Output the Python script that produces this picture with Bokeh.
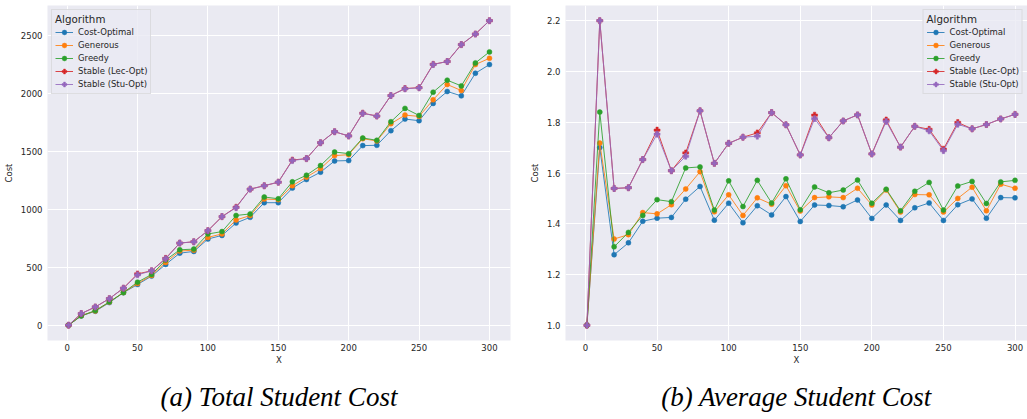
from bokeh.plotting import figure
from bokeh.layouts import row
from bokeh.models import FixedTicker, Range1d, Title, NumeralTickFormatter
from bokeh.embed import file_html
from bokeh.resources import INLINE

x_vals = [1, 10, 20, 30, 40, 50, 60, 70, 80, 90, 100, 110, 120, 130, 140, 150,
          160, 170, 180, 190, 200, 210, 220, 230, 240, 250, 260, 270, 280, 290, 300]

algorithms = ["Cost-Optimal", "Generous", "Greedy", "Stable (Lec-Opt)", "Stable (Stu-Opt)"]
colors = ["#1f77b4", "#ff7f0e", "#2ca02c", "#d62728", "#9467bd"]
markers = ["circle", "circle", "circle", "plus", "plus"]

# (a) Total student cost
total_cost_optimal = [1, 81, 121, 196, 281, 352, 424, 525, 622, 637, 744, 775, 882, 931, 1057, 1057,
                      1183, 1257, 1320, 1417, 1420, 1549, 1552, 1678, 1778, 1764, 1913, 2016, 1978, 2173, 2248]
total_generous = [1, 83, 124, 200, 283, 360, 430, 542, 640, 648, 758, 788, 908, 946, 1089, 1083,
                  1203, 1277, 1351, 1463, 1471, 1609, 1589, 1738, 1812, 1801, 1944, 2076, 2024, 2248, 2302]
total_greedy = [1, 82, 127, 202, 282, 372, 438, 562, 651, 657, 787, 808, 947, 960, 1106, 1091,
                1237, 1294, 1377, 1494, 1480, 1615, 1595, 1755, 1870, 1809, 2010, 2113, 2064, 2262, 2357]
total_stable_lec = [1, 101, 158, 230, 320, 443, 470, 577, 709, 720, 816, 937, 1018, 1174, 1203, 1234,
                    1425, 1437, 1574, 1669, 1632, 1829, 1804, 1981, 2041, 2049, 2250, 2274, 2420, 2511, 2626]
total_stable_stu = [1, 101, 158, 230, 320, 435, 470, 574, 709, 720, 816, 937, 1014, 1174, 1203, 1234,
                    1420, 1437, 1574, 1669, 1632, 1827, 1804, 1981, 2039, 2047, 2248, 2274, 2420, 2511, 2626]

# (b) Average student cost
avg_cost_optimal = [1.0, 1.70, 1.278, 1.325, 1.41, 1.422, 1.425, 1.497, 1.547, 1.414, 1.481, 1.404, 1.471,
                    1.435, 1.507, 1.409, 1.474, 1.472, 1.467, 1.494, 1.421, 1.474, 1.413, 1.463, 1.482,
                    1.413, 1.475, 1.498, 1.422, 1.503, 1.502]
avg_generous = [1.0, 1.718, 1.34, 1.357, 1.444, 1.439, 1.475, 1.537, 1.605, 1.447, 1.514, 1.433, 1.502,
                1.477, 1.55, 1.45, 1.503, 1.506, 1.503, 1.54, 1.474, 1.533, 1.446, 1.515, 1.514,
                1.446, 1.50, 1.544, 1.451, 1.556, 1.54]
avg_greedy = [1.0, 1.84, 1.309, 1.366, 1.433, 1.495, 1.487, 1.62, 1.624, 1.454, 1.569, 1.468, 1.571,
              1.482, 1.577, 1.455, 1.545, 1.522, 1.533, 1.572, 1.481, 1.536, 1.451, 1.528, 1.563,
              1.454, 1.549, 1.567, 1.48, 1.565, 1.571]
avg_stable_lec = [1.0, 2.2, 1.539, 1.542, 1.653, 1.769, 1.609, 1.679, 1.845, 1.638, 1.717, 1.741, 1.758,
                  1.838, 1.79, 1.671, 1.828, 1.739, 1.805, 1.829, 1.675, 1.809, 1.702, 1.784, 1.772,
                  1.694, 1.799, 1.774, 1.791, 1.813, 1.831]
avg_stable_stu = [1.0, 2.2, 1.539, 1.542, 1.653, 1.753, 1.609, 1.666, 1.845, 1.638, 1.717, 1.741, 1.745,
                  1.838, 1.79, 1.671, 1.814, 1.739, 1.805, 1.829, 1.675, 1.803, 1.702, 1.784, 1.766,
                  1.688, 1.792, 1.774, 1.791, 1.813, 1.831]

x_ticks = [0, 50, 100, 150, 200, 250, 300]
total_ticks = [0, 500, 1000, 1500, 2000, 2500]
avg_ticks = [1.0, 1.2, 1.4, 1.6, 1.8, 2.0, 2.2]

FONT = "DejaVu Sans"
TXT = "#262626"


def make_fig(series, y_range, y_ticks, x_end, caption, left_border, right_border, frame_w, legend_loc):
    p = figure(frame_width=frame_w, frame_height=335,
               x_range=Range1d(-13.95, x_end), y_range=Range1d(*y_range),
               output_backend="svg", toolbar_location=None,
               min_border_left=left_border, min_border_right=right_border,
               min_border_top=5, min_border_bottom=79)
    p.background_fill_color = "#EAEAF2"
    p.border_fill_color = "white"
    p.outline_line_color = None
    for g in (p.xgrid, p.ygrid):
        g.grid_line_color = "white"
        g.grid_line_width = 1
    p.xaxis.ticker = FixedTicker(ticks=x_ticks)
    p.yaxis.ticker = FixedTicker(ticks=y_ticks)
    for ax in (p.xaxis, p.yaxis):
        ax.axis_line_color = None
        ax.major_tick_line_color = None
        ax.minor_tick_line_color = None
        ax.major_tick_out = 0
        ax.major_tick_in = 0
        ax.minor_tick_out = 0
        ax.minor_tick_in = 0
        ax.major_label_text_font = FONT
        ax.major_label_text_font_size = "8.5px"
        ax.major_label_text_color = TXT
        ax.axis_label_text_font = FONT
        ax.axis_label_text_font_size = "8.5px"
        ax.axis_label_text_font_style = "normal"
        ax.axis_label_text_color = TXT
    p.xaxis.major_label_standoff = 3
    p.xaxis.axis_label_standoff = 1
    p.yaxis.major_label_standoff = 5
    p.yaxis.axis_label_standoff = 4
    p.xaxis.axis_label = "X"
    p.yaxis.axis_label = "Cost"

    for name, ys, col, mk in zip(algorithms, series, colors, markers):
        p.line(x_vals, ys, line_color=col, line_width=1.0, line_alpha=0.85, legend_label=name)
        p.scatter(x_vals, ys, marker=mk, size=5 if mk == "circle" else 6, fill_color=col,
                  line_color=col, line_width=0.5, legend_label=name)

    lg = p.legend[0]
    lg.location = legend_loc
    lg.margin = 4
    lg.padding = 3
    lg.spacing = 1
    lg.title = "Algorithm"
    lg.title_text_font = FONT
    lg.title_text_font_size = "10.3px"
    lg.title_text_font_style = "normal"
    lg.title_text_color = TXT
    lg.title_standoff = 1
    lg.label_text_font = FONT
    lg.label_text_font_size = "8.5px"
    lg.label_text_color = TXT
    lg.label_height = 12
    lg.glyph_height = 12
    lg.glyph_width = 18
    lg.label_standoff = 5
    lg.background_fill_color = "#EAEAF2"
    lg.background_fill_alpha = 0.8
    lg.border_line_color = "#cccccc"
    lg.border_line_width = 1

    t = Title(text=caption, align="center", text_font="Liberation Serif",
              text_font_style="italic", text_font_size="27px", text_color="black",
              standoff=24)
    p.add_layout(t, "below")
    return p


p1 = make_fig([total_cost_optimal, total_generous, total_greedy, total_stable_lec, total_stable_stu],
              (-131, 2757), total_ticks, 314.95, "(a) Total Student Cost", 47, 10, 463, "top_left")
p2 = make_fig([avg_cost_optimal, avg_generous, avg_greedy, avg_stable_lec, avg_stable_stu],
              (0.94, 2.26), avg_ticks, 308.7, "(b) Average Student Cost", 45, 0, 462, "top_right")
p2.yaxis.formatter = NumeralTickFormatter(format="0.0")

layout = row(p1, p2, spacing=0)
open("out.html", "w").write(file_html(layout, INLINE))
